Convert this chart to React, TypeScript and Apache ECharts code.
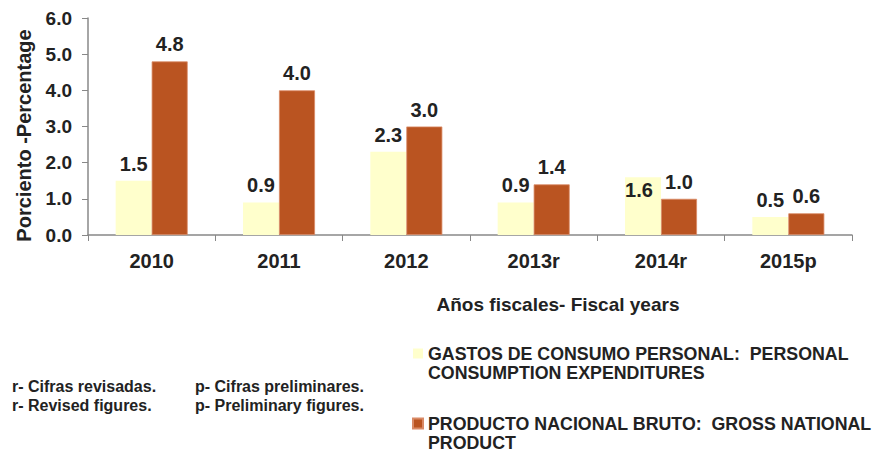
import React, { useEffect, useRef } from "react";
import * as echarts from "echarts";

const categories = ["2010", "2011", "2012", "2013r", "2014r", "2015p"];
const consumoValues = [1.5, 0.9, 2.3, 0.9, 1.6, 0.5];
const pnbValues = [4.8, 4.0, 3.0, 1.4, 1.0, 0.6];
const consumoName = "GASTOS DE CONSUMO PERSONAL:  PERSONAL CONSUMPTION EXPENDITURES";
const pnbName = "PRODUCTO NACIONAL BRUTO:  GROSS NATIONAL PRODUCT";
const legendLines: Record<string, string> = {
  [consumoName]: "GASTOS DE CONSUMO PERSONAL:  PERSONAL\nCONSUMPTION EXPENDITURES",
  [pnbName]: "PRODUCTO NACIONAL BRUTO:  GROSS NATIONAL\nPRODUCT",
};
const notesCol1 = ["r- Cifras revisadas.", "r- Revised figures."];
const notesCol2 = ["p- Cifras preliminares.", "p- Preliminary figures."];
const yAxisTitle = "Porciento -Percentage";
const xAxisTitle = "Años fiscales- Fiscal years";

// label placement tweaks (styling only)
const consumoLabelOffsets = [[0, 0], [0, 0], [0, 0], [0, 0], [-4, 30], [0, 0]];

const FONT = "'Liberation Sans', Arial, sans-serif";
const YELLOW = "#FFFFCC";
const ORANGE = "#BA5421";
const TEXT = "#222222";
const AXIS = "#888888";

export default function App() {
  const ref = useRef<HTMLDivElement>(null);
  useEffect(() => {
    if (!ref.current) return;
    const chart = echarts.init(ref.current, undefined, { renderer: "svg" });
    const labelBase = {
      show: true,
      position: "top" as const,
      distance: 7,
      color: TEXT,
      fontFamily: FONT,
      fontWeight: "bold" as const,
      fontSize: 20,
      formatter: (p: any) => Number(p.value).toFixed(1),
    };
    chart.setOption({
      animation: false,
      backgroundColor: "#ffffff",
      grid: { left: 88, right: 23, top: 18, bottom: 218, containLabel: false },
      legend: {
        orient: "vertical",
        left: 412,
        top: 325,
        height: 200,
        padding: 0,
        itemWidth: 10,
        itemHeight: 10,
        itemGap: 13,
        icon: "rect",
        data: [consumoName, pnbName],
        // leading blank line keeps the icon level with the first text line
        formatter: (n: string) => "\n" + (legendLines[n] || n),
        textStyle: {
          color: TEXT,
          fontFamily: FONT,
          fontWeight: "bold",
          fontSize: 17.8,
          lineHeight: 19,
        },
        selectedMode: false,
      },
      xAxis: {
        type: "category",
        data: categories,
        axisLine: { lineStyle: { color: AXIS, width: 1.5 } },
        axisTick: { show: true, length: 6, lineStyle: { color: AXIS } },
        axisLabel: {
          color: TEXT,
          fontFamily: FONT,
          fontWeight: "bold",
          fontSize: 20,
          margin: 16,
        },
        name: xAxisTitle,
        nameLocation: "middle",
        nameGap: 60,
        nameTextStyle: {
          color: TEXT,
          fontFamily: FONT,
          fontWeight: "bold",
          fontSize: 19,
          padding: [0, 0, 0, 176],
        },
      },
      yAxis: {
        type: "value",
        min: 0,
        max: 6,
        interval: 1,
        splitLine: { show: false },
        axisLine: { show: true, lineStyle: { color: AXIS, width: 1.5 } },
        axisTick: { show: true, length: 6, lineStyle: { color: AXIS } },
        axisLabel: {
          color: TEXT,
          fontFamily: FONT,
          fontWeight: "bold",
          fontSize: 19,
          margin: 16,
          formatter: (v: number) => v.toFixed(1),
        },
        name: yAxisTitle,
        nameLocation: "middle",
        nameRotate: 90,
        nameGap: 54,
        nameTextStyle: {
          color: TEXT,
          fontFamily: FONT,
          fontWeight: "bold",
          fontSize: 20,
          padding: [0, 18, 0, 0],
        },
      },
      series: [
        {
          name: consumoName,
          type: "bar",
          barWidth: 36,
          barGap: "0%",
          itemStyle: { color: YELLOW },
          data: consumoValues.map((v, i) => ({
            value: v,
            label: { offset: consumoLabelOffsets[i] },
          })),
          label: labelBase,
        },
        {
          name: pnbName,
          type: "bar",
          barWidth: 36,
          barGap: "0%",
          itemStyle: { color: ORANGE, borderColor: "#D98A66", borderWidth: 0.8 },
          data: pnbValues,
          label: labelBase,
        },
      ],
      graphic: [
        ...notesCol1.map((t, i) => ({
          type: "text",
          left: 12,
          top: 378 + i * 19,
          style: { text: t, fill: TEXT, font: `bold 16px ${FONT}` },
        })),
        ...notesCol2.map((t, i) => ({
          type: "text",
          left: 195,
          top: 378 + i * 19,
          style: { text: t, fill: TEXT, font: `bold 16px ${FONT}` },
        })),
      ],
    });
    return () => chart.dispose();
  }, []);
  return (
    <div
      ref={ref}
      style={{ position: "fixed", left: 0, top: 0, width: 875, height: 453 }}
    />
  );
}
